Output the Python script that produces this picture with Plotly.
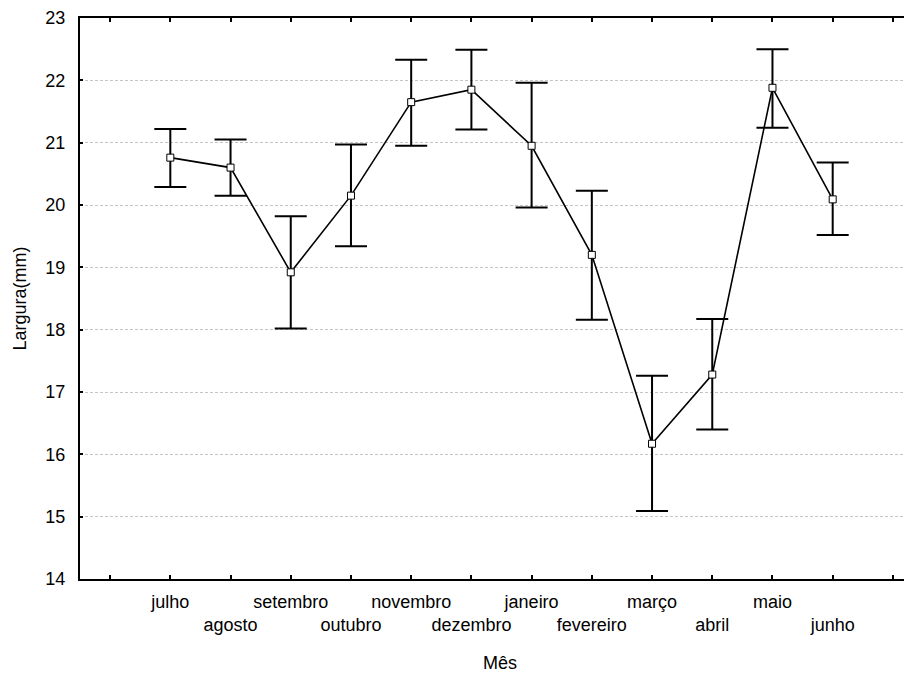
import plotly.graph_objects as go

months = ["julho", "agosto", "setembro", "outubro", "novembro", "dezembro",
          "janeiro", "fevereiro", "março", "abril", "maio", "junho"]
means = [20.76, 20.60, 18.92, 20.15, 21.65, 21.85, 20.95, 19.20, 16.17, 17.28, 21.88, 20.09]
upper = [21.22, 21.05, 19.82, 20.97, 22.33, 22.49, 21.96, 20.23, 17.26, 18.17, 22.50, 20.68]
lower = [20.29, 20.15, 18.02, 19.34, 20.95, 21.21, 19.96, 18.16, 15.09, 16.40, 21.24, 19.52]
y_ticks = [14, 15, 16, 17, 18, 19, 20, 21, 22, 23]

idx = list(range(len(months)))
err_plus = [u - m for u, m in zip(upper, means)]
err_minus = [m - l for m, l in zip(means, lower)]

tick_positions = list(range(-1, 14))
tick_labels = []
for p in tick_positions:
    if 0 <= p < len(months):
        tick_labels.append(months[p] if p % 2 == 0 else "<br>" + months[p])
    else:
        tick_labels.append("")

fig = go.Figure()
fig.add_trace(go.Scatter(
    x=idx, y=means, mode="lines+markers",
    line=dict(color="black", width=1.6),
    marker=dict(symbol="square", size=7, color="white",
                line=dict(color="black", width=1)),
    error_y=dict(type="data", symmetric=False, array=err_plus, arrayminus=err_minus,
                 color="black", thickness=2, width=16),
    showlegend=False,
))

fig.update_layout(
    width=912, height=674,
    margin=dict(l=72, r=0, t=10, b=103),
    paper_bgcolor="white", plot_bgcolor="white",
    font=dict(family="Liberation Sans, Arial, sans-serif", size=18, color="black"),
)
fig.update_xaxes(
    range=[-1.5, 12.45], tickmode="array", tickvals=tick_positions, ticktext=tick_labels,
    tickangle=0, automargin=False,
    ticks="inside", ticklen=4, tickwidth=1.5, tickcolor="black",
    showline=True, linecolor="black", linewidth=2, mirror="ticks",
    showgrid=False, zeroline=False,
    tickfont=dict(size=18), ticklabelstandoff=5,
    title=dict(text="Mês", font=dict(size=18), standoff=22),
)
fig.update_yaxes(
    range=[14, 23], tickmode="array", tickvals=y_ticks, automargin=False,
    ticks="inside", ticklen=3, tickwidth=1.5, tickcolor="black",
    showline=True, linecolor="black", linewidth=2,
    showgrid=True, gridcolor="#c4c4c4", gridwidth=1, griddash="3px,2px",
    zeroline=False, tickfont=dict(size=18), ticklabelstandoff=9,
    ticklabeloverflow="allow",
    title=dict(text="Largura(mm)", font=dict(size=18), standoff=14),
)

fig.write_html("out.html")
